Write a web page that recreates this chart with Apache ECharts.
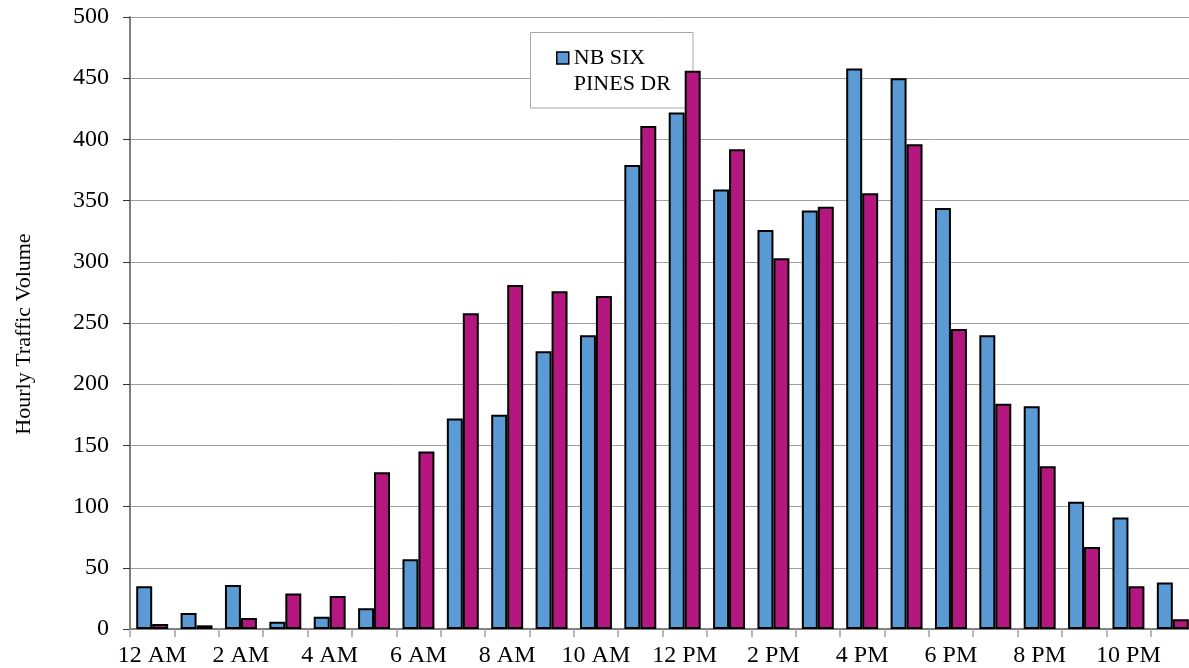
<!DOCTYPE html>
<html>
<head>
<meta charset="utf-8">
<script src="https://cdn.jsdelivr.net/npm/echarts@6/dist/echarts.min.js"></script>
<style>
html,body{margin:0;padding:0;background:#fff;overflow:hidden;width:1189px;height:668px;}
#chart{width:1195px;height:668px;}
</style>
</head>
<body>
<div id="chart"></div>
<script>
const categories = ['12 AM','1 AM','2 AM','3 AM','4 AM','5 AM','6 AM','7 AM','8 AM','9 AM','10 AM','11 AM',
  '12 PM','1 PM','2 PM','3 PM','4 PM','5 PM','6 PM','7 PM','8 PM','9 PM','10 PM','11 PM'];
const seriesNames = ['NB SIX PINES DR', 'SB SIX PINES DR'];
const nbValues = [35, 13, 36, 6, 10, 17, 57, 172, 175, 227, 240, 379, 422, 359, 326, 342, 458, 450, 344, 240, 182, 104, 91, 38];
const sbValues = [4, 3, 9, 29, 27, 128, 145, 258, 281, 276, 272, 411, 456, 392, 303, 345, 356, 396, 245, 184, 133, 67, 35, 8];
const yTicks = { min: 0, max: 500, interval: 50 };
const yAxisTitle = 'Hourly Traffic Volume';

const FONT = 'Liberation Serif';
const chart = echarts.init(document.getElementById('chart'));
chart.setOption({
  animation: false,
  backgroundColor: '#fff',
  textStyle: { fontFamily: FONT, color: '#000' },
  grid: { left: 130, right: 0, top: 17, bottom: 39 },
  graphic: [{
    type: 'rect', z: 1, silent: true,
    shape: { x: 530.5, y: 32.5, width: 162.5, height: 75.5 },
    style: { fill: '#fff', stroke: '#a6a6a6', lineWidth: 1 }
  }],
  legend: {
    data: [seriesNames[0]],
    left: 556, top: 19, padding: 0,
    itemWidth: 12, itemHeight: 12, itemGap: 0,
    icon: 'rect',
    itemStyle: { borderColor: '#000', borderWidth: 1.5 },
    formatter: function () { return '\nNB SIX\nPINES DR'; },
    textStyle: { fontFamily: FONT, fontSize: 22, lineHeight: 26, color: '#000' }
  },
  xAxis: {
    type: 'category',
    data: categories,
    boundaryGap: true,
    axisLine: { lineStyle: { color: '#808080', width: 2 } },
    axisTick: { show: true, interval: 0, length: 8, lineStyle: { color: '#a0a0a0', width: 1.5 } },
    axisLabel: { interval: 1, fontFamily: FONT, fontSize: 24, color: '#000', margin: 15 }
  },
  yAxis: {
    type: 'value',
    min: yTicks.min, max: yTicks.max, interval: yTicks.interval,
    name: yAxisTitle,
    nameLocation: 'middle',
    nameGap: 95,
    nameTextStyle: { fontFamily: FONT, fontSize: 22, color: '#000', padding: [0, 22, 0, 0] },
    axisLine: { show: true, lineStyle: { color: '#808080', width: 2 } },
    axisTick: { show: true, length: 7, lineStyle: { color: '#333', width: 1 } },
    axisLabel: { fontFamily: FONT, fontSize: 24, color: '#000', margin: 21 },
    splitLine: { show: true, lineStyle: { color: '#a0a0a0', width: 1 } }
  },
  series: [
    {
      name: seriesNames[0], type: 'bar', data: nbValues,
      barGap: '0%', barCategoryGap: '28%',
      itemStyle: { color: '#5B9BD5', borderColor: '#000', borderWidth: 2 }
    },
    {
      name: seriesNames[1], type: 'bar', data: sbValues,
      barGap: '0%', barCategoryGap: '28%',
      itemStyle: { color: '#B4177F', borderColor: '#000', borderWidth: 2 }
    }
  ]
});
</script>
</body>
</html>
